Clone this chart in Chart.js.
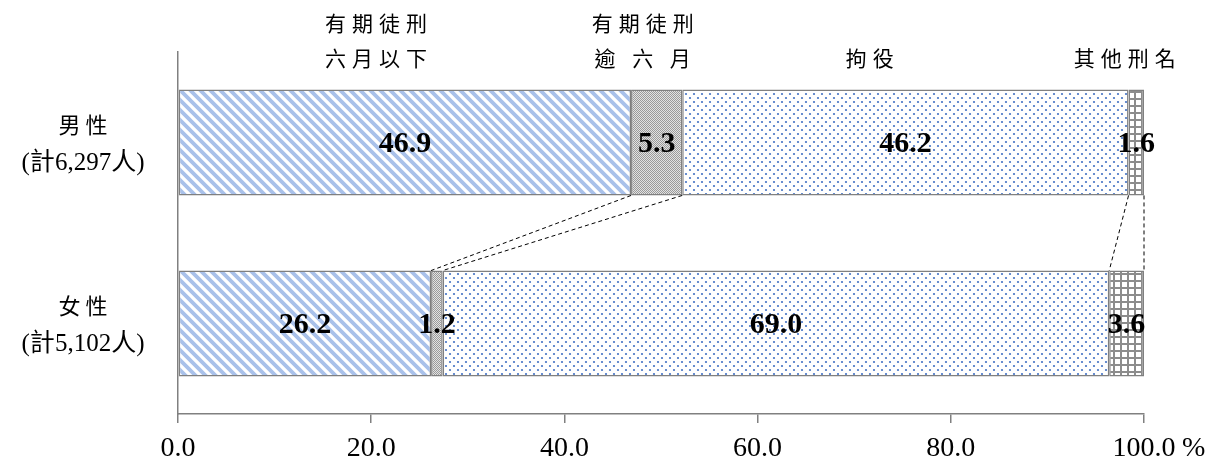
<!DOCTYPE html>
<html>
<head>
<meta charset="utf-8">
<script src="https://cdn.jsdelivr.net/npm/chart.js@4/dist/chart.umd.min.js"></script>
<style>
html,body{margin:0;background:#fff;}
#wrap{width:1208px;height:460px;}
</style>
</head>
<body>
<div id="wrap"><canvas id="chart" width="1208" height="460"></canvas></div>
<script>
const categories = [['男性', '(計6,297人)'], ['女性', '(計5,102人)']];
const seriesNames = [['有期徒刑', '六月以下'], ['有期徒刑', '逾 六 月'], ['拘役'], ['其他刑名']];
const shortTerm = [46.9, 26.2];
const longTerm = [5.3, 1.2];
const detention = [46.2, 69.0];
const otherPen = [1.6, 3.6];
const tickValues = [0, 20, 40, 60, 80, 100];

function makePattern(w, h, draw){
    const c = document.createElement('canvas');
    c.width = w; c.height = h;
    const g = c.getContext('2d');
    g.fillStyle = '#fff';
    g.fillRect(0, 0, w, h);
    draw(g);
    return document.getElementById('chart').getContext('2d').createPattern(c, 'repeat');
}

// light blue "\" stripes
const stripes = makePattern(10, 10, g=>{
    g.strokeStyle = '#a9c1ea';
    g.lineWidth = 3.8;
    g.beginPath();
    g.moveTo(-5, -5); g.lineTo(15, 15);
    g.moveTo(-5, 5); g.lineTo(5, 15);
    g.moveTo(5, -5); g.lineTo(15, 5);
    g.stroke();
});
// fine gray checker
const checker = makePattern(2, 2, g=>{
    g.fillStyle = '#e2e2e2';
    g.fillRect(0, 0, 2, 2);
    g.fillStyle = '#9a9a9a';
    g.fillRect(0, 0, 1, 1);
    g.fillRect(1, 1, 1, 1);
});
// blue dots
const dots = makePattern(8, 8, g=>{
    g.fillStyle = '#4472c4';
    g.beginPath(); g.arc(2, 2, 1.1, 0, Math.PI*2); g.fill();
    g.beginPath(); g.arc(6, 6, 1.1, 0, Math.PI*2); g.fill();
});
// gray grid
const grid = makePattern(7, 7, g=>{
    g.fillStyle = '#8c8c8c';
    g.fillRect(0, 0, 7, 2);
    g.fillRect(0, 0, 2, 7);
});

const seriesData = [shortTerm, longTerm, detention, otherPen];
const fills = [stripes, checker, dots, grid];

function cumulative(j){
    let s = 0;
    return seriesData.map(d=>(s += d[j]));
}

const overlay = {
    id: 'overlay',
    afterDatasetsDraw(chart){
        const ctx = chart.ctx;
        const xs = chart.scales.x;
        ctx.save();
        // dashed connectors between the two bars
        const top = chart.getDatasetMeta(0).data[0];
        const bot = chart.getDatasetMeta(0).data[1];
        const y1 = top.y + top.height/2;
        const y2 = bot.y - bot.height/2;
        const c0 = cumulative(0), c1 = cumulative(1);
        ctx.strokeStyle = '#000';
        ctx.lineWidth = 1;
        ctx.setLineDash([4, 3]);
        c0.forEach((v, i)=>{
            ctx.beginPath();
            ctx.moveTo(xs.getPixelForValue(v), y1);
            ctx.lineTo(xs.getPixelForValue(c1[i]), y2);
            ctx.stroke();
        });
        ctx.setLineDash([]);
        // value labels
        ctx.fillStyle = '#000';
        ctx.font = 'bold 30px "Liberation Serif"';
        ctx.textAlign = 'center';
        ctx.textBaseline = 'middle';
        chart.data.datasets.forEach((ds, i)=>{
            chart.getDatasetMeta(i).data.forEach((el, j)=>{
                ctx.fillText(ds.data[j].toFixed(1), (el.x + el.base)/2, el.y + 2);
            });
        });
        ctx.restore();
    },
    afterDraw(chart){
        const ctx = chart.ctx;
        const xs = chart.scales.x;
        ctx.save();
        ctx.fillStyle = '#000';
        ctx.textAlign = 'center';
        ctx.textBaseline = 'middle';
        // category labels
        chart.getDatasetMeta(0).data.forEach((el, j)=>{
            ctx.font = '22px "Noto Sans CJK TC"';
            ctx.letterSpacing = '5px';
            ctx.fillText(categories[j][0], 85.5, el.y - 18);
            ctx.font = '25px "Liberation Serif", "Noto Sans CJK TC"';
            ctx.letterSpacing = '0px';
            ctx.fillText(categories[j][1], 83, el.y + 21);
        });
        // series names above the first bar
        const anchors = [20.5, 48.1, 71.6, 98.0];
        ctx.font = '21px "Noto Sans CJK TC"';
        ctx.letterSpacing = '6px';
        seriesNames.forEach((lines, i)=>{
            const x = xs.getPixelForValue(anchors[i]) + 3;
            lines.forEach((t, k)=>{
                const y = 58 - (lines.length - 1 - k) * 35;
                ctx.fillText(t, x, y);
            });
        });
        ctx.letterSpacing = '0px';
        // unit after last tick
        ctx.font = '28px "Liberation Serif"';
        ctx.textAlign = 'left';
        ctx.fillText('%', xs.right + 38, 449);
        ctx.restore();
    }
};

new Chart(document.getElementById('chart'), {
    type: 'bar',
    data: {
        labels: categories.map(c=>c.join(' ')),
        datasets: seriesNames.map((n, i)=>({
            label: n.join(''),
            data: seriesData[i],
            backgroundColor: fills[i],
            borderColor: '#808080',
            borderWidth: 1.5,
            borderSkipped: false,
            barPercentage: 0.585,
            categoryPercentage: 1
        }))
    },
    options: {
        indexAxis: 'y',
        responsive: false,
        animation: false,
        layout: {padding: {top: 52, right: 64, left: 0, bottom: 0}},
        plugins: {legend: {display: false}, tooltip: {enabled: false}},
        scales: {
            x: {
                stacked: true,
                min: 0,
                max: 100,
                afterBuildTicks: s=>{ s.ticks = tickValues.map(v=>({value: v})); },
                afterFit: s=>{ s.height = 46; },
                grid: {drawOnChartArea: false, tickLength: 9, color: '#808080', lineWidth: 1.5},
                border: {color: '#808080', width: 1.5},
                ticks: {
                    color: '#000',
                    padding: 9,
                    maxRotation: 0,
                    font: {family: 'Liberation Serif', size: 28},
                    callback: v=>Number(v).toFixed(1)
                }
            },
            y: {
                stacked: true,
                afterFit: s=>{ s.width = 178; },
                grid: {display: false},
                border: {color: '#808080', width: 1.5},
                ticks: {display: false}
            }
        }
    },
    plugins: [overlay]
});
</script>
</body>
</html>
